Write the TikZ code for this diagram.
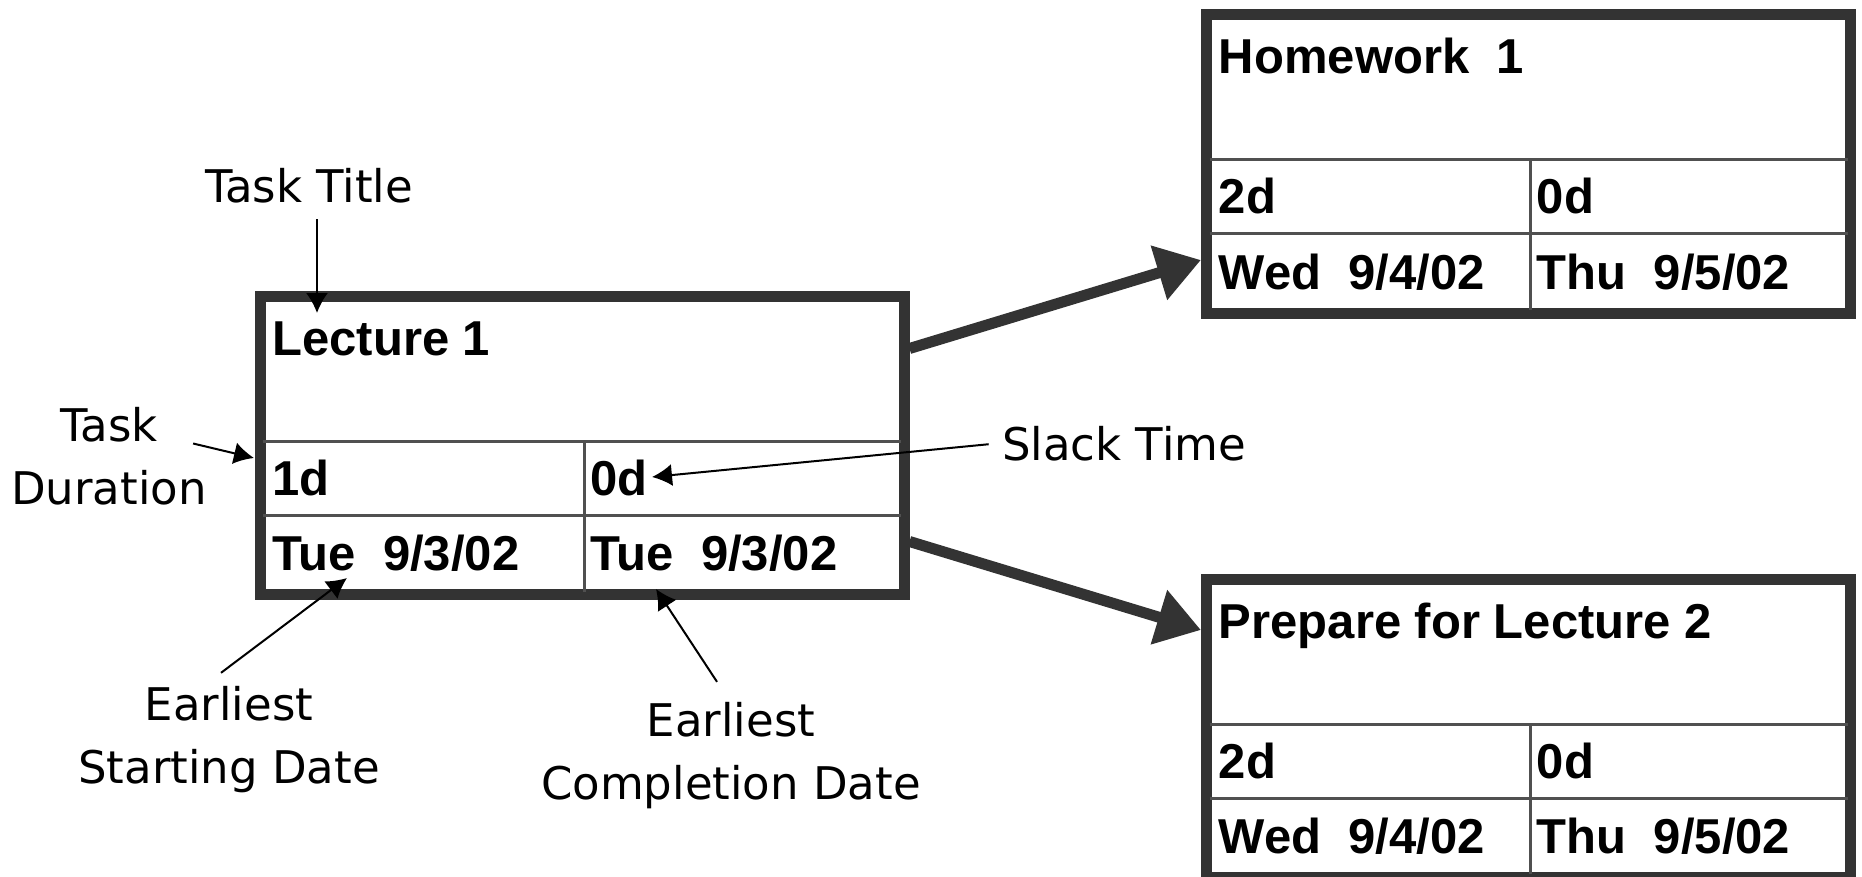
\documentclass[tikz,border=0pt]{standalone}
\usepackage{fontspec}
\usepackage{tikz}
\usetikzlibrary{arrows.meta}
\newfontfamily\boxfont{Liberation Sans}
\newfontfamily\notefont{DejaVu Sans}
\definecolor{framegray}{RGB}{51,51,51}
\definecolor{rulegray}{RGB}{80,80,80}

% #1 name, #2 centre, #3 title, #4 duration, #5 slack, #6 start, #7 finish
\newcommand{\taskbox}[7]{%
  \node[taskframe] (#1) at (#2) {};
  \begin{scope}[shift={(#1.center)}]
    \draw[taskrule] (-319,-4) -- (319,-4);
    \draw[taskrule] (-319,70) -- (319,70);
    \draw[taskrule] (2,-4) -- (2,146);
    \node[tasktext] (#1-name) at (-310,-90) {#3};
    \node[tasktext] (#1-dur) at (-310,50) {#4};
    \node[tasktext] (#1-slack) at (8,50) {#5};
    \node[tasktext] (#1-start) at (-310,125) {#6};
    \node[tasktext] (#1-finish) at (8,125) {#7};
  \end{scope}}

\begin{document}
\begin{tikzpicture}[x=0.5pt, y=-0.5pt,
    taskframe/.style={draw=framegray, line width=5.5pt, minimum width=322pt, minimum height=149pt, inner sep=0pt},
    taskrule/.style={draw=rulegray, line width=1.5pt},
    tasktext/.style={anchor=base west, inner sep=0pt, font=\boxfont\bfseries\fontsize{24.5}{28}\selectfont},
    note/.style={font=\notefont\fontsize{22.5}{31.5}\selectfont, align=center, inner sep=0pt},
    pointer/.style={-{Latex[length=10pt, width=11pt]}, line width=1pt, black},
    flow/.style={-{Triangle[length=22pt, width=27pt]}, line width=5.5pt, framegray},
]
    \useasboundingbox (0,0) rectangle (1862,877);

    \taskbox{lec}{582,445.5}{Lecture 1}{1d}{0d}{Tue~~9/3/02}{Tue~~9/3/02}
    \taskbox{hw}{1528.5,164}{Homework~~1}{2d}{0d}{Wed~~9/4/02}{Thu~~9/5/02}
    \taskbox{prep}{1528.5,728}{Prepare for Lecture 2}{2d}{0d}{Wed~~9/4/02}{Thu~~9/5/02}

    \draw[flow] ([yshift=48.5pt]lec.east) -- ([yshift=-48pt]hw.west);
    \draw[flow] ([yshift=-48pt]lec.east) -- ([yshift=49pt]prep.west);

    % annotations
    \node[note, anchor=base] (ttitle) at (309,203) {Task Title};
    \node[note] (tdur) at (109,456.5) {Task\\Duration};
    \node[note, anchor=base] (slack) at (1124,460) {Slack Time};
    \node[note] (tstart) at (229,739.5) {Earliest\\Starting Date};
    \node[note] (tfinish) at (731,755.5) {Earliest\\Completion Date};

    \coordinate (tip-title) at (317,313);
    \coordinate (tip-dur) at (254,458);
    \coordinate (tip-slack) at (652,477);
    \coordinate (tip-start) at (347,578);
    \coordinate (tip-finish) at (656,589);

    \draw[pointer] ([shift={(8,15)}]ttitle.south) -- (tip-title);
    \draw[pointer] ([shift={(-14,-13)}]tdur.east) -- (tip-dur);
    \draw[pointer] ([shift={(-13,1)}]slack.west) -- (tip-slack);
    \draw[pointer] ([shift={(-8,-13)}]tstart.north) -- (tip-start);
    \draw[pointer] ([shift={(-14,-20)}]tfinish.north) -- (tip-finish);
\end{tikzpicture}
\end{document}
